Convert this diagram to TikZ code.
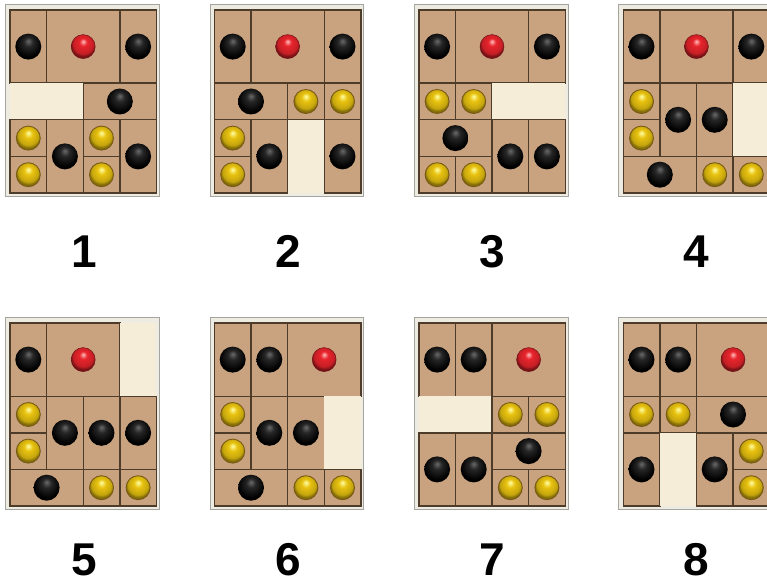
\documentclass[tikz,border=0pt]{standalone}
\usepackage{fontspec}
\setmainfont{Liberation Sans}
\definecolor{pzTan}{HTML}{C9A37F}
\definecolor{pzLine}{HTML}{4E3C2A}
\definecolor{pzCream}{HTML}{F6EDD9}
\definecolor{pzBand}{HTML}{EEEBE2}
\definecolor{pzGrey}{HTML}{A5A5A0}
\definecolor{pzRed}{HTML}{E8242C}
\definecolor{pzYellow}{HTML}{E8C210}
\definecolor{pzGold}{HTML}{7A5A14}
\definecolor{pzBlkHi}{HTML}{6A6A6A}
\pgfdeclareradialshading{blkball}{\pgfqpoint{0bp}{11bp}}{color(0bp)=(pzBlkHi); color(9bp)=(black!85); color(25bp)=(black); color(50bp)=(black)}
\pgfdeclareradialshading{redball}{\pgfqpoint{0bp}{11bp}}{color(0bp)=(red!25!white); color(8bp)=(pzRed); color(21bp)=(pzRed!85!black); color(25bp)=(pzRed!55!black); color(50bp)=(black)}
\pgfdeclareradialshading{yelball}{\pgfqpoint{0bp}{11bp}}{color(0bp)=(yellow!35!white); color(9bp)=(pzYellow); color(21bp)=(pzYellow!85!black); color(25bp)=(pzYellow!60!black); color(50bp)=(black)}
\tikzset{
  x=1pt, y=-1pt,
  boardfill/.style={fill=pzTan},
  frameband/.style={fill=pzBand, draw=pzGrey, line width=0.8pt},
  pieceB/.style={draw=pzLine, line width=1.4pt},
  pieceR/.style={draw=pzLine, line width=1.4pt},
  pieceY/.style={draw=pzLine, line width=1.4pt},
  pieceE/.style={fill=pzCream},
  ballbase/.style={circle, inner sep=0pt, outer sep=0pt},
  ballB/.style={ballbase, minimum size=26pt, shade, shading=blkball},
  ballR/.style={ballbase, minimum size=24pt, shade, shading=redball, draw=pzRed!50!black, line width=0.5pt},
  ballY/.style={ballbase, minimum size=24pt, shade, shading=yelball, draw=pzGold, line width=0.9pt},
  ballE/.style={ballbase, minimum size=0pt},
  numlabel/.style={font=\fontsize{46}{46}\selectfont\bfseries, inner sep=0pt, anchor=base}
}
\def\cw{36.6}
\def\ch{36.6}
\newcommand\pzboard[4]{%
  \begin{scope}[shift={(#1,#2)}]
    \path[frameband] (-4.5,-5.5) rectangle ({4*\cw+3},{5*\ch+3});
    \path[boardfill] (0,0) rectangle ({4*\cw},{5*\ch});
    \foreach \pc/\pr/\pw/\ph/\ptype in {#4} {
      \path[piece\ptype] ({\pc*\cw},{\pr*\ch}) rectangle ++({\pw*\cw},{\ph*\ch});
      \node[ball\ptype, name=b#3-\pc-\pr] at ({(\pc+\pw/2)*\cw},{(\pr+\ph/2)*\ch}) {};
    }
  \end{scope}}
\begin{document}
\begin{tikzpicture}
\useasboundingbox (0,0) rectangle (767,585);
\fill[white] (0,0) rectangle (767,585);
% row 1
\pzboard{10}{10}{1}{0/0/1/2/B, 1/0/2/2/R, 3/0/1/2/B, 0/2/2/1/E, 2/2/2/1/B, 0/3/1/1/Y, 0/4/1/1/Y, 1/3/1/2/B, 2/3/1/1/Y, 2/4/1/1/Y, 3/3/1/2/B}
\pzboard{214.4}{10}{2}{0/0/1/2/B, 1/0/2/2/R, 3/0/1/2/B, 0/2/2/1/B, 2/2/1/1/Y, 3/2/1/1/Y, 0/3/1/1/Y, 0/4/1/1/Y, 1/3/1/2/B, 2/3/1/2/E, 3/3/1/2/B}
\pzboard{418.8}{10}{3}{0/0/1/2/B, 1/0/2/2/R, 3/0/1/2/B, 0/2/1/1/Y, 1/2/1/1/Y, 2/2/2/1/E, 0/3/2/1/B, 0/4/1/1/Y, 1/4/1/1/Y, 2/3/1/2/B, 3/3/1/2/B}
\pzboard{623.2}{10}{4}{0/0/1/2/B, 1/0/2/2/R, 3/0/1/2/B, 0/2/1/1/Y, 0/3/1/1/Y, 1/2/1/2/B, 2/2/1/2/B, 3/2/1/2/E, 0/4/2/1/B, 2/4/1/1/Y, 3/4/1/1/Y}
% row 2
\pzboard{10}{323}{5}{0/0/1/2/B, 1/0/2/2/R, 3/0/1/2/E, 0/2/1/1/Y, 0/3/1/1/Y, 1/2/1/2/B, 2/2/1/2/B, 3/2/1/2/B, 0/4/2/1/B, 2/4/1/1/Y, 3/4/1/1/Y}
\pzboard{214.4}{323}{6}{0/0/1/2/B, 1/0/1/2/B, 2/0/2/2/R, 0/2/1/1/Y, 0/3/1/1/Y, 1/2/1/2/B, 2/2/1/2/B, 3/2/1/2/E, 0/4/2/1/B, 2/4/1/1/Y, 3/4/1/1/Y}
\pzboard{418.8}{323}{7}{0/0/1/2/B, 1/0/1/2/B, 2/0/2/2/R, 0/2/2/1/E, 2/2/1/1/Y, 3/2/1/1/Y, 2/3/2/1/B, 2/4/1/1/Y, 3/4/1/1/Y, 0/3/1/2/B, 1/3/1/2/B}
\pzboard{623.2}{323}{8}{0/0/1/2/B, 1/0/1/2/B, 2/0/2/2/R, 0/2/1/1/Y, 1/2/1/1/Y, 2/2/2/1/B, 0/3/1/2/B, 1/3/1/2/E, 2/3/1/2/B, 3/3/1/1/Y, 3/4/1/1/Y}
% labels
\node[numlabel] (l1) at (84,267) {1};
\node[numlabel] (l2) at (288,267) {2};
\node[numlabel] (l3) at (492,267) {3};
\node[numlabel] (l4) at (696,267) {4};
\node[numlabel] (l5) at (84,575) {5};
\node[numlabel] (l6) at (288,575) {6};
\node[numlabel] (l7) at (492,575) {7};
\node[numlabel] (l8) at (696,575) {8};
\end{tikzpicture}
\end{document}
